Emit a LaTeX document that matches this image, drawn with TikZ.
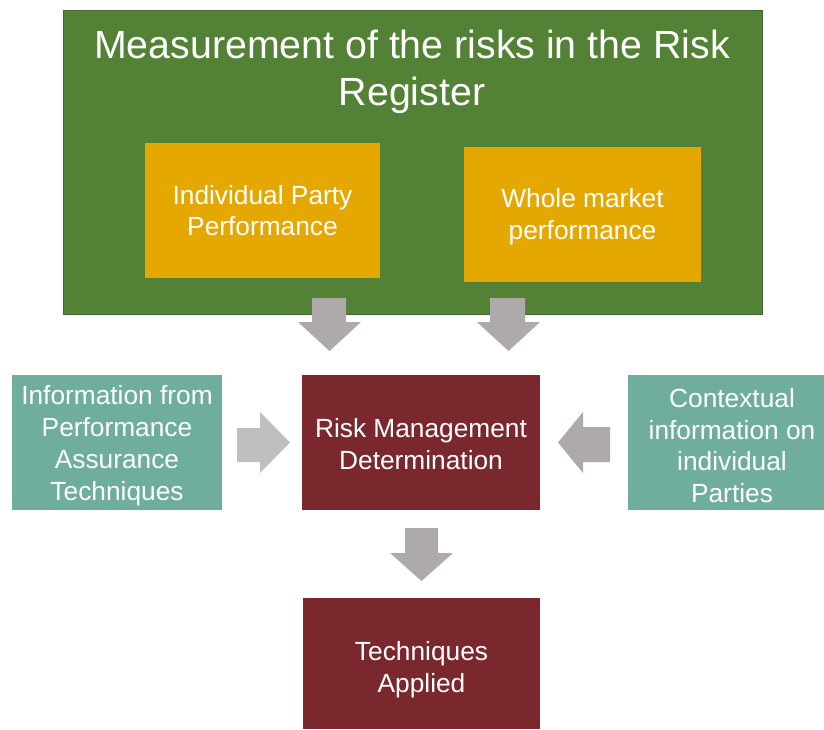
\documentclass[tikz,border=0pt]{standalone}
\usepackage{fontspec}
\setmainfont{Liberation Sans}
\definecolor{grn}{HTML}{538135}
\definecolor{grnb}{HTML}{41682A}
\definecolor{org}{HTML}{E5A800}
\definecolor{teal2}{HTML}{6FAE9F}
\definecolor{mar}{HTML}{7A282E}
\definecolor{arr}{HTML}{AEAAAA}
\definecolor{arrl}{HTML}{BFBFBF}
\begin{document}
\begin{tikzpicture}[x=1pt,y=-1pt,
  box/.style={inner sep=0pt, align=center, text=white, font=\fontsize{26.3}{31.8}\selectfont},
  gbox/.style={fill=grn, draw=grnb, line width=1pt},
  obox/.style={box, fill=org},
  tbox/.style={box, fill=teal2},
  mbox/.style={box, fill=mar},
  lbl/.style={text=white, align=center, inner sep=0pt, font=\fontsize{26.3}{31.8}\selectfont},
  blk/.style={fill=arr}]
\useasboundingbox (0,0) rectangle (824,729);
% green container
\node[gbox, minimum width=699pt, minimum height=304pt, inner sep=0pt, anchor=north west] (reg) at (63,10) {};
\node[text=white, align=center, font=\fontsize{39.3}{47}\selectfont, inner sep=0pt] (title) at (412,72) {Measurement of the risks in the Risk\\Register};
\node[obox, minimum width=235pt, minimum height=135pt] (ipp) at (262.5,210.5) {};
\node[lbl] at ([yshift=0pt]ipp.center) {Individual Party\\Performance};
\node[obox, minimum width=237pt, minimum height=135pt] (wmp) at (582.5,214.5) {};
\node[lbl] at ([yshift=-2.5pt]wmp.center) {Whole market\\performance};
% middle row
\node[tbox, minimum width=210pt, minimum height=135pt] (info) at (117,442.5) {};
\node[lbl] at ([yshift=-3pt]info.center) {Information from\\Performance\\Assurance\\Techniques};
\node[mbox, minimum width=238pt, minimum height=135pt] (rmd) at (421,442.5) {};
\node[lbl] at ([yshift=-1.5pt]rmd.center) {Risk Management\\Determination};
\node[tbox, minimum width=196pt, minimum height=135pt] (ctx) at (726,442.5) {};
\node[lbl] at ([yshift=-3pt, xshift=6pt]ctx.center) {Contextual\\information on\\individual\\Parties};
\node[mbox, minimum width=237pt, minimum height=131pt] (tech) at (421.5,663.5) {};
\node[lbl] at ([yshift=-6.5pt]tech.center) {Techniques\\Applied};
% block arrows
\fill[blk] (312,298) -- (346,298) -- (346,322) -- (361,322) -- (329.5,351) -- (298,322) -- (312,322) -- cycle;
\fill[blk] (490,298) -- (525,298) -- (525,322) -- (540,322) -- (508.5,351) -- (477,322) -- (490,322) -- cycle;
\fill[blk] (405,528) -- (438,528) -- (438,553) -- (453,553) -- (421.5,581) -- (390,553) -- (405,553) -- cycle;
\fill[arrl] (237,428) -- (260,428) -- (260,412) -- (290,442.5) -- (260,473) -- (260,462) -- (237,462) -- cycle;
\fill[blk] (610,427) -- (583,427) -- (583,412) -- (558,442.5) -- (583,473) -- (583,462) -- (610,462) -- cycle;
\end{tikzpicture}
\end{document}
